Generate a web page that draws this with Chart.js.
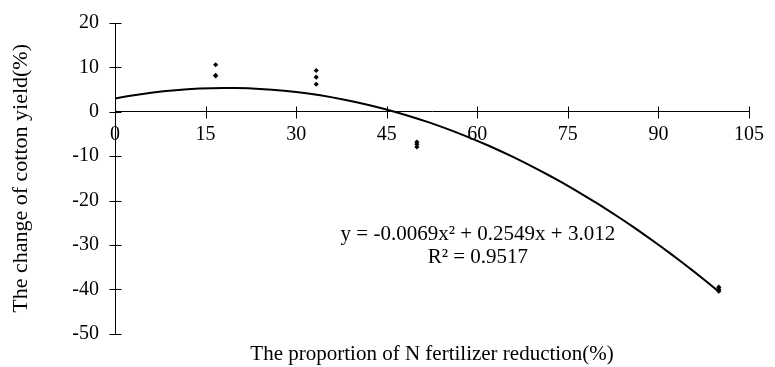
<!DOCTYPE html>
<html>
<head>
<meta charset="utf-8">
<script src="https://cdn.jsdelivr.net/npm/chart.js@4.4.0/dist/chart.umd.min.js"></script>
<style>
body { margin: 0; background: #fff; }
#wrap { width: 775px; height: 367px; }
</style>
</head>
<body>
<div id="wrap"><canvas id="myChart" width="775" height="367"></canvas></div>
<script>
// observed points
var reduction = [0, 16.67, 16.67, 16.67, 33.33, 33.33, 33.33, 50, 50, 50, 100, 100, 100];
var yieldChange = [0, 10.6, 8.2, 8.1, 9.3, 7.8, 6.2, -6.8, -7.3, -7.9, -39.5, -40, -40.4];
// trendline y = a*x^2 + b*x + c (as printed on the chart)
var fitCoef = [-0.0069, 0.2549, 3.012];
var fitRange = [0, 100];
var xTicks = [0, 15, 30, 45, 60, 75, 90, 105];
var yTicks = [20, 10, 0, -10, -20, -30, -40, -50];
var eqText = 'y = -0.0069x\u00B2 + 0.2549x + 3.012';
var r2Text = 'R\u00B2 = 0.9517';

var FONT = '"Liberation Serif", "Times New Roman", serif';

var pts = reduction.map(function (x, i) { return { x: x, y: yieldChange[i] }; });
var curve = [];
for (var x = fitRange[0]; x <= fitRange[1]; x += 2) {
    curve.push({ x: x, y: fitCoef[0] * x * x + fitCoef[1] * x + fitCoef[2] });
}

var extras = {
    id: 'extras',
    afterDraw: function (chart) {
        var ctx = chart.ctx;
        var sx = chart.scales.x, sy = chart.scales.y;
        var x0 = Math.round(sx.getPixelForValue(0)) + 0.5;
        var y0 = Math.round(sy.getPixelForValue(0)) + 0.5;
        ctx.save();
        ctx.strokeStyle = '#000';
        ctx.lineWidth = 1;
        ctx.beginPath();
        xTicks.forEach(function (v) {
            var px = Math.round(sx.getPixelForValue(v)) + 0.5;
            ctx.moveTo(px, y0 - 6); ctx.lineTo(px, y0 + 6);
        });
        yTicks.forEach(function (v) {
            var py = Math.round(sy.getPixelForValue(v)) + 0.5;
            ctx.moveTo(x0 - 6, py); ctx.lineTo(x0 + 6, py);
        });
        ctx.stroke();
        // trendline label
        ctx.fillStyle = '#000';
        ctx.font = '21px ' + FONT;
        ctx.textAlign = 'center';
        ctx.textBaseline = 'middle';
        ctx.fillText(eqText, sx.getPixelForValue(60.1), sy.getPixelForValue(-27.6));
        ctx.fillText(r2Text, sx.getPixelForValue(60.1), sy.getPixelForValue(-32.8));
        ctx.restore();
    }
};

var ctx = document.getElementById('myChart').getContext('2d');
var chart = new Chart(ctx, {
    type: 'scatter',
    data: {
        datasets: [{
            label: 'points',
            data: pts,
            pointStyle: 'rectRot',
            pointRadius: 2.6,
            backgroundColor: '#000',
            borderColor: '#000',
            borderWidth: 0
        }, {
            label: 'fit',
            type: 'line',
            data: curve,
            borderColor: '#000',
            borderWidth: 2,
            pointRadius: 0,
            tension: 0,
            fill: false
        }]
    },
    options: {
        responsive: false,
        animation: false,
        devicePixelRatio: 1,
        layout: { padding: { top: 23, right: 18, left: 0, bottom: 0 } },
        plugins: { legend: { display: false }, tooltip: { enabled: false } },
        scales: {
            x: {
                type: 'linear',
                position: { y: 0 },
                min: 0, max: 105,
                afterBuildTicks: function (s) { s.ticks = xTicks.map(function (v) { return { value: v }; }); },
                grid: { display: false, drawTicks: false },
                border: { display: true, color: '#000', width: 1 },
                ticks: { color: '#000', font: { family: FONT, size: 20 }, padding: 11, maxRotation: 0, autoSkip: false }
            },
            x2: {
                type: 'linear',
                position: 'bottom',
                min: 0, max: 105,
                grid: { display: false, drawTicks: false },
                border: { display: false },
                ticks: { display: false },
                title: {
                    display: true,
                    text: 'The proportion of N fertilizer reduction(%)',
                    color: '#000',
                    font: { family: FONT, size: 21 },
                    padding: { top: 8, bottom: 0 }
                }
            },
            y: {
                type: 'linear',
                min: -50, max: 20,
                afterBuildTicks: function (s) { s.ticks = yTicks.map(function (v) { return { value: v }; }); },
                afterFit: function (s) { s.width = 115; },
                grid: { display: false, drawTicks: true, tickLength: 12 },
                border: { display: true, color: '#000', width: 1 },
                ticks: { color: '#000', font: { family: FONT, size: 20 }, padding: 4 },
                title: {
                    display: true,
                    text: 'The change of cotton yield(%)',
                    color: '#000',
                    font: { family: FONT, size: 22 },
                    padding: { top: 8, bottom: 0 }
                }
            }
        }
    },
    plugins: [extras]
});
</script>
</body>
</html>
